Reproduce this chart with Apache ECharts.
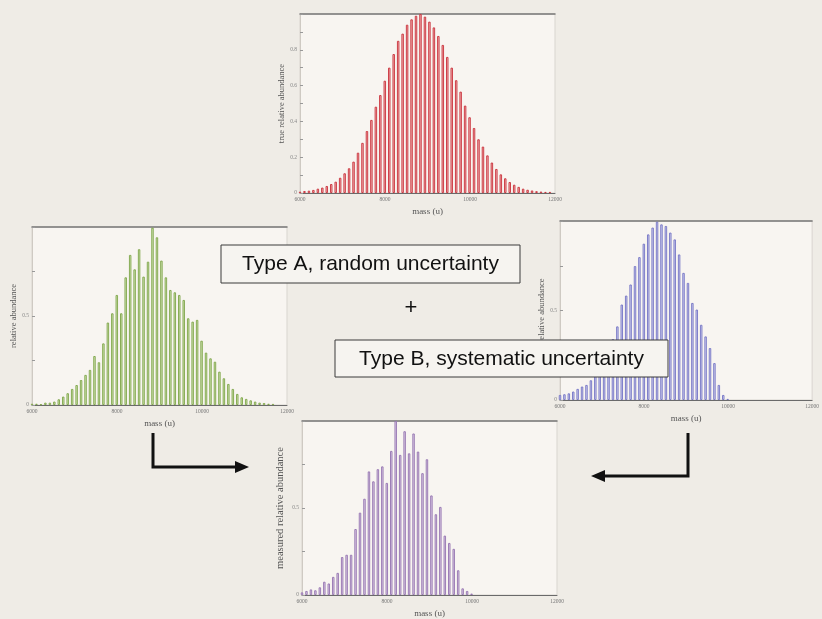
<!DOCTYPE html>
<html><head><meta charset="utf-8">
<script src="https://cdn.jsdelivr.net/npm/echarts@6/dist/echarts.min.js"></script>
<style>html,body{margin:0;padding:0;background:#efece6;}#c{width:822px;height:619px;}</style>
</head><body><div id="c"></div>
<script>
// mass bins (u)
const masses = [6000,6105,6210,6315,6420,6525,6630,6735,6840,6945,7050,7155,7260,7365,7470,7575,7680,7785,7890,7995,
  8100,8205,8310,8415,8520,8625,8730,8835,8940,9045,9150,9255,9360,9465,9570,9675,9780,9885,9990,10095,
  10200,10305,10410,10515,10620,10725,10830,10935,11040,11145,11250,11355,11460,11565,11670,11775,11880];
// true relative abundance (top, red)
const trueAbundance = [0.007,0.011,0.013,0.017,0.024,0.03,0.039,0.05,0.063,0.085,0.11,0.138,0.175,0.225,0.28,0.346,0.408,0.482,0.547,0.627,
  0.70,0.776,0.85,0.89,0.94,0.97,0.99,1.0,0.985,0.957,0.925,0.877,0.827,0.76,0.70,0.63,0.566,0.488,0.423,0.363,
  0.30,0.259,0.21,0.17,0.134,0.104,0.082,0.061,0.046,0.034,0.024,0.018,0.014,0.01,0.008,0.006,0.006];
// Type A, random uncertainty (left, green)
const typeAAbundance = [0.007,0.007,0.004,0.013,0.013,0.019,0.032,0.047,0.066,0.09,0.112,0.14,0.169,0.197,0.275,0.24,0.346,0.463,0.515,0.618,
  0.515,0.717,0.843,0.762,0.875,0.721,0.805,0.996,0.942,0.811,0.717,0.646,0.633,0.618,0.59,0.487,0.468,0.478,0.361,0.294,
  0.262,0.243,0.187,0.15,0.118,0.09,0.062,0.043,0.034,0.026,0.019,0.013,0.011,0.007,0.006];
// Type B, systematic uncertainty (right, blue)
const typeBAbundance = [0.028,0.032,0.037,0.047,0.062,0.075,0.084,0.11,0.14,0.18,0.22,0.27,0.34,0.411,0.533,0.583,0.645,0.748,0.798,0.873,
  0.925,0.963,0.996,0.981,0.972,0.935,0.897,0.813,0.71,0.654,0.542,0.505,0.42,0.355,0.29,0.206,0.084,0.028,0.006];
// measured relative abundance (bottom, purple)
const measuredAbundance = [0.015,0.023,0.032,0.027,0.044,0.076,0.066,0.104,0.127,0.218,0.231,0.231,0.379,0.473,0.553,0.71,0.653,0.723,0.739,0.644,
  0.828,1.0,0.805,0.941,0.814,0.928,0.824,0.70,0.78,0.572,0.464,0.506,0.341,0.299,0.265,0.142,0.038,0.023,0.008];
const massTicks = {min: 6000, max: 12000, interval: 2000};

const panels = [
  {vals: trueAbundance, grid:{left:300, top:14, width:255, height:179}, yName:'true relative abundance', yStep:0.1, yLabelStep:0.2,
   fill:'#f2b9b8', stroke:'#c9303a'},
  {vals: typeAAbundance, grid:{left:32, top:227, width:255, height:178}, yName:'relative abundance', yStep:0.25, yLabelStep:0.5,
   fill:'#d3e5b6', stroke:'#7ea548'},
  {vals: typeBAbundance, grid:{left:560, top:221, width:257, height:179}, yName:'relative abundance', yStep:0.25, yLabelStep:0.5,
   fill:'#d2d2f0', stroke:'#7474c4'},
  {vals: measuredAbundance, grid:{left:302, top:421, width:255, height:176}, yName:'measured relative abundance', yStep:0.25, yLabelStep:0.5,
   fill:'#ddd0e6', stroke:'#9473b0'}
];

const serif = '"Liberation Serif","DejaVu Serif",serif';
const grid=[], xAxis=[], yAxis=[], series=[];
panels.forEach((p,k)=>{
  grid.push(Object.assign({show:true, backgroundColor:'#f8f5f1', borderColor:'#d9d5cf', borderWidth:1, containLabel:false}, p.grid));
  xAxis.push({type:'value', gridIndex:k, min:massTicks.min, max:massTicks.max, interval:massTicks.interval,
    name:'mass (u)', nameLocation:'middle', nameGap:14, nameTextStyle:{fontFamily:serif, fontSize:9, color:'#555'},
    axisLine:{show:true, lineStyle:{color:'#6a6a6a', width:1}}, axisTick:{show:false}, splitLine:{show:false},
    axisLabel:{fontSize:5.5, color:'#777', margin:4, fontFamily:serif, formatter:v=>String(v)}});
  xAxis.push({type:'value', gridIndex:k, position:'top', min:massTicks.min, max:massTicks.max,
    axisLine:{show:true, lineStyle:{color:'#777', width:1.5}}, axisTick:{show:false}, axisLabel:{show:false}, splitLine:{show:false}});
  yAxis.push({type:'value', gridIndex:k, min:0, max:1, interval:p.yStep,
    name:p.yName, nameLocation:'middle', nameGap:k===3?16:14, nameRotate:90,
    nameTextStyle:{fontFamily:serif, fontSize:k===3?10.5:8.5, color:'#555'},
    axisLine:{show:true, lineStyle:{color:'#cfcac3'}}, axisTick:{show:true, inside:true, length:3, lineStyle:{color:'#999'}},
    splitLine:{show:false},
    axisLabel:{fontSize:5.5, color:'#888', margin:3, fontFamily:serif,
      formatter:v=>{ if (v>=1) return ''; const r=v/p.yLabelStep; return Math.abs(r-Math.round(r))<1e-6 ? String(+v.toFixed(2)) : ''; }}});
  series.push({type:'bar', xAxisIndex:2*k, yAxisIndex:k, barWidth:2.4, clip:false, animation:false,
    data:p.vals.map((v,i)=>[masses[i], v]),
    itemStyle:{color:p.fill, borderColor:p.stroke, borderWidth:0.9}});
});

const sans = '"Liberation Sans",Arial,sans-serif';
const graphic = [
  {type:'rect', z:100, shape:{x:221, y:245, width:299, height:38}, style:{fill:'#f6f4f0', stroke:'#3a3a3a', lineWidth:1}},
  {type:'text', z:101, x:370.5, y:264, style:{text:'Type A, random uncertainty', font:'21px '+sans, fill:'#111', textAlign:'center', textVerticalAlign:'middle'}},
  {type:'text', z:101, x:411, y:308, style:{text:'+', font:'22px '+sans, fill:'#111', textAlign:'center', textVerticalAlign:'middle'}},
  {type:'rect', z:100, shape:{x:335, y:340, width:333, height:37}, style:{fill:'#f6f4f0', stroke:'#3a3a3a', lineWidth:1}},
  {type:'text', z:101, x:501.5, y:359, style:{text:'Type B, systematic uncertainty', font:'21px '+sans, fill:'#111', textAlign:'center', textVerticalAlign:'middle'}},
  {type:'polyline', z:100, shape:{points:[[153,433],[153,467],[238,467]]}, style:{stroke:'#111', lineWidth:3, fill:null}},
  {type:'polygon', z:100, shape:{points:[[249,467],[235,461],[235,473]]}, style:{fill:'#111'}},
  {type:'polyline', z:100, shape:{points:[[688,433],[688,476],[602,476]]}, style:{stroke:'#111', lineWidth:3, fill:null}},
  {type:'polygon', z:100, shape:{points:[[591,476],[605,470],[605,482]]}, style:{fill:'#111'}}
];

const chart = echarts.init(document.getElementById('c'), null, {renderer:'canvas'});
chart.setOption({backgroundColor:'#efece6', animation:false, grid, xAxis, yAxis, series, graphic});
</script></body></html>
